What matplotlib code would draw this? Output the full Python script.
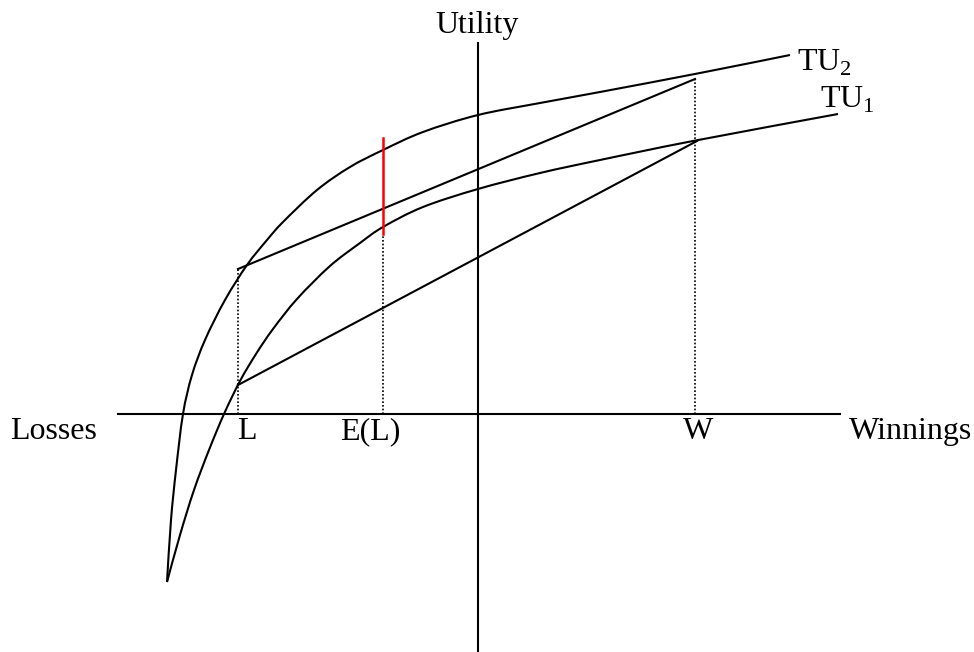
import matplotlib
matplotlib.use("Agg")
import matplotlib.pyplot as plt
from matplotlib.path import Path
from matplotlib.patches import PathPatch

plt.rcParams['font.family'] = ['Liberation Serif', 'DejaVu Serif']
plt.rcParams['mathtext.fontset'] = 'custom'
plt.rcParams['mathtext.rm'] = 'Liberation Serif'

# curves (x = winnings, y = utility; origin at the axes crossing)
tu2_x = [-311, -307, -302, -295, -286, -273, -253, -231, -211, -195, -161, -128, -95, -55, 0, 62, 122, 222, 312]
tu2_y = [-168, -106, -56, 0, 39, 74, 114, 149, 174, 192, 224, 247, 264, 282, 299, 311, 322, 341, 359]

tu1_x = [-311, -298, -284, -269, -254, -238, -222, -205, -181, -148, -118, -95, -55, 0, 62, 122, 215, 360]
tu1_y = [-168, -121, -76, -36, 0, 33, 60, 85, 115, 148, 171, 187, 207, 225, 241, 254, 273, 300]

L = -240
EL = -95
W = 217

chord_low = [29, 273]    # utility at L and W on TU1
chord_high = [145, 335]  # utility at L and W on TU2
red_span = [180, 276]    # red segment at E(L)
dot_tops = [145, 179, 335]


def smooth_path(xs, ys):
    # catmull-rom through the read points, drawn as cubic bezier segments
    pts = list(zip(xs, ys))
    verts = [pts[0]]
    codes = [Path.MOVETO]
    n = len(pts)
    for i in range(n - 1):
        p0 = pts[max(i - 1, 0)]
        p1 = pts[i]
        p2 = pts[i + 1]
        p3 = pts[min(i + 2, n - 1)]
        c1 = (p1[0] + (p2[0] - p0[0]) / 6, p1[1] + (p2[1] - p0[1]) / 6)
        c2 = (p2[0] - (p3[0] - p1[0]) / 6, p2[1] - (p3[1] - p1[1]) / 6)
        verts += [c1, c2, p2]
        codes += [Path.CURVE4] * 3
    return Path(verts, codes)


fig = plt.figure(figsize=(9.74, 6.52), dpi=100)
ax = fig.add_axes([0, 0, 1, 1])
ax.set_xlim(-478, 496)
ax.set_ylim(-238, 414)
ax.axis('off')

# axes
ax.plot([-360, 362], [0, 0], color='black', lw=1.5)
ax.plot([0, 0], [-240, 371], color='black', lw=1.5)

# utility curves
ax.add_patch(PathPatch(smooth_path(tu2_x, tu2_y), fill=False, edgecolor='black', lw=1.5))
ax.add_patch(PathPatch(smooth_path(tu1_x, tu1_y), fill=False, edgecolor='black', lw=1.5))

# chords
ax.plot([L, W + 2], [chord_low[0], chord_low[1]], color='black', lw=1.5)
ax.plot([L, W], [chord_high[0], chord_high[1]], color='black', lw=1.5)

# dotted drop lines
for xv, top in zip([L, EL, W], dot_tops):
    ax.plot([xv, xv], [0, top], color='black', lw=1.2, linestyle=(0, (1, 1.2)))

# red segment
ax.plot([EL, EL], red_span, color='red', lw=1.8)

fs = 23
ax.text(-1, 381, "Utility", fontsize=fs, ha='center', va='baseline')
ax.text(-468, -25, "Losses", fontsize=fs, ha='left', va='baseline')
ax.text(494, -25, "Winnings", fontsize=fs, ha='right', va='baseline')
ax.text(L - 1, -25, "L", fontsize=fs, ha='left', va='baseline')
ax.text(EL - 43, -25, "E(L)", fontsize=fs, ha='left', va='baseline')
ax.text(W + 3, -25, "W", fontsize=fs, ha='center', va='baseline')
ax.text(319, 343, "TU$_2$", fontsize=fs, ha='left', va='baseline')
ax.text(342, 306, "TU$_1$", fontsize=fs, ha='left', va='baseline')

plt.savefig("out.png", dpi=100)
